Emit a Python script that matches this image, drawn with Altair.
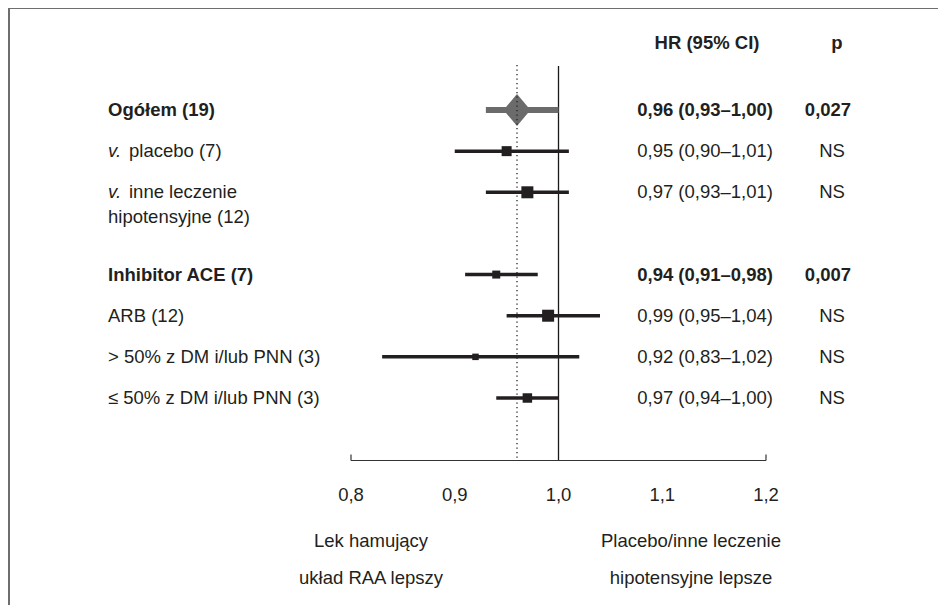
import altair as alt
import pandas as pd

# ---- data ----
labels = ["Ogółem (19)", "placebo (7)", "inne leczenie", "Inhibitor ACE (7)",
          "ARB (12)", "> 50% z DM i/lub PNN (3)", "≤ 50% z DM i/lub PNN (3)"]
prefixes = ["", "v.", "v.", "", "", "", ""]
second_lines = ["", "", "hipotensyjne (12)", "", "", "", ""]
rows = [0, 1, 2, 4, 5, 6, 7]
hr = [0.96, 0.95, 0.97, 0.94, 0.99, 0.92, 0.97]
ci_low = [0.93, 0.90, 0.93, 0.91, 0.95, 0.83, 0.94]
ci_high = [1.00, 1.01, 1.01, 0.98, 1.04, 1.02, 1.00]
hr_labels = ["0,96 (0,93–1,00)", "0,95 (0,90–1,01)", "0,97 (0,93–1,01)",
             "0,94 (0,91–0,98)", "0,99 (0,95–1,04)", "0,92 (0,83–1,02)",
             "0,97 (0,94–1,00)"]
p_labels = ["0,027", "NS", "NS", "0,007", "NS", "NS", "NS"]
bold = [True, False, False, True, False, False, False]
pooled = [True, False, False, False, False, False, False]
weights = [0, 100, 144, 64, 144, 42, 90]

x_ticks = [0.8, 0.9, 1.0, 1.1, 1.2]
x_tick_labels = ["0,8", "0,9", "1,0", "1,1", "1,2"]
null_value = [1.0]
pooled_value = [0.96]

footer_texts = ["Lek hamujący", "układ RAA lepszy",
                "Placebo/inne leczenie", "hipotensyjne lepsze"]
footer_side = ["L", "L", "R", "R"]
footer_line = [0, 1, 0, 1]

df = pd.DataFrame({
    "label": labels, "prefix": prefixes, "line2": second_lines, "row": rows,
    "hr": hr, "lo": ci_low, "hi": ci_high, "hr_label": hr_labels,
    "p": p_labels, "bold": bold, "pooled": pooled, "weight": weights,
})
ticks_df = pd.DataFrame({"v": x_ticks, "t": x_tick_labels})
axis_df = pd.DataFrame({"lo": [x_ticks[0]], "hi": [x_ticks[-1]]})
ends_df = pd.DataFrame({"v": [x_ticks[0], x_ticks[-1]]})
null_df = pd.DataFrame({"v": null_value})
pool_df = pd.DataFrame({"v": pooled_value})
foot_df = pd.DataFrame({"t": footer_texts, "side": footer_side, "line": footer_line})

FONT = "Liberation Sans, Arial, Helvetica, sans-serif"
FS = 18.5
INK = "#231f20"
GREY = "#6b6b6b"

XS = alt.Scale(domain=[0.8, 1.2], range=[343, 758])
YS = alt.Scale(domain=[0, 7], range=[102, 390])
FS_Y = alt.Scale(domain=[0, 1], range=[533, 570])


def X(f):
    return alt.X(f, scale=XS, axis=None)


def Y(f):
    return alt.Y(f, scale=YS, axis=None)


base = alt.Chart(df)

# frame (top and left edges)
frame_top = alt.Chart(axis_df).mark_rule(color="#6e6e6e", strokeWidth=2).encode(
    x=alt.value(0), x2=alt.value(930), y=alt.value(0))
frame_left = alt.Chart(axis_df).mark_rule(color="#6e6e6e", strokeWidth=2).encode(
    x=alt.value(1), y=alt.value(0), y2=alt.value(597))

# vertical reference lines
null_line = alt.Chart(null_df).mark_rule(color="#1a1a1a", strokeWidth=1.3).encode(
    x=X("v:Q"), y=alt.value(58), y2=alt.value(452))
pool_line = alt.Chart(pool_df).mark_rule(color="#222222", strokeWidth=1.3,
                                         strokeDash=[1.2, 3.3]).encode(
    x=X("v:Q"), y=alt.value(57), y2=alt.value(450))

# pooled estimate
pool_ci = base.transform_filter("datum.pooled").mark_rule(
    color=GREY, strokeWidth=6).encode(x=X("lo:Q"), x2="hi:Q", y=Y("row:Q"))
pool_diamond = base.transform_filter("datum.pooled").mark_point(
    shape="M-0.84,0L0,-1L0.84,0L0,1Z", filled=True, size=1024,
    color=GREY, opacity=1).encode(x=X("hr:Q"), y=Y("row:Q"))

# subgroups
sub_ci = base.transform_filter("!datum.pooled").mark_rule(
    color=INK, strokeWidth=3.5).encode(x=X("lo:Q"), x2="hi:Q", y=Y("row:Q"))
sub_sq = base.transform_filter("!datum.pooled").mark_square(
    color=INK, opacity=1).encode(
    x=X("hr:Q"), y=Y("row:Q"),
    size=alt.Size("weight:Q", scale=alt.Scale(domain=[0, 144], range=[0, 144]),
                  legend=None))


def txt(data, flt, **kw):
    c = data
    if flt:
        c = c.transform_filter(flt)
    params = dict(font=FONT, fontSize=FS, color=INK, baseline="middle")
    params.update(kw)
    return c.mark_text(**params)


# left labels
lab_plain = txt(base, "datum.prefix == '' && !datum.bold", align="left").encode(
    x=alt.value(100), y=Y("row:Q"), text="label:N")
lab_bold = txt(base, "datum.prefix == '' && datum.bold", align="left",
               fontWeight="bold").encode(x=alt.value(100), y=Y("row:Q"), text="label:N")
lab_prefix = txt(base, "datum.prefix != ''", align="left", fontStyle="italic").encode(
    x=alt.value(100), y=Y("row:Q"), text="prefix:N")
lab_after = txt(base, "datum.prefix != ''", align="left", dx=21).encode(
    x=alt.value(100), y=Y("row:Q"), text="label:N")
lab_line2 = txt(base, "datum.line2 != ''", align="left", dy=25).encode(
    x=alt.value(100), y=Y("row:Q"), text="line2:N")

# HR and p columns
hr_plain = txt(base, "!datum.bold", align="right").encode(
    x=alt.value(765), y=Y("row:Q"), text="hr_label:N")
hr_bold = txt(base, "datum.bold", align="right", fontWeight="bold").encode(
    x=alt.value(765), y=Y("row:Q"), text="hr_label:N")
p_plain = txt(base, "!datum.bold", align="center").encode(
    x=alt.value(824), y=Y("row:Q"), text="p:N")
p_bold = txt(base, "datum.bold", align="center", fontWeight="bold").encode(
    x=alt.value(820), y=Y("row:Q"), text="p:N")

head_df = pd.DataFrame({"t": ["HR (95% CI)"]})
hdr_hr = txt(alt.Chart(head_df), None, align="center", fontWeight="bold").encode(
    x=alt.value(699), y=alt.value(35), text="t:N")
hdr_p = txt(alt.Chart(pd.DataFrame({"t": ["p"]})), None, align="center",
            fontWeight="bold").encode(x=alt.value(829), y=alt.value(35), text="t:N")

# axis
axis_line = alt.Chart(axis_df).mark_rule(color="#333333", strokeWidth=1.2).encode(
    x=X("lo:Q"), x2="hi:Q", y=alt.value(452.5))
axis_ends = alt.Chart(ends_df).mark_rule(color="#333333", strokeWidth=1.2).encode(
    x=X("v:Q"), y=alt.value(446.5), y2=alt.value(452.5))
axis_labels = txt(alt.Chart(ticks_df), None, align="center").encode(
    x=X("v:Q"), y=alt.value(487), text="t:N")

foot_l = txt(alt.Chart(foot_df), "datum.side == 'L'", align="center").encode(
    x=alt.value(363), y=alt.Y("line:Q", scale=FS_Y, axis=None), text="t:N")
foot_r = txt(alt.Chart(foot_df), "datum.side == 'R'", align="center").encode(
    x=alt.value(683), y=alt.Y("line:Q", scale=FS_Y, axis=None), text="t:N")

plot = alt.layer(
    frame_top, frame_left,
    null_line,
    pool_ci, pool_diamond, sub_ci, sub_sq,
    pool_line,
    axis_line, axis_ends,
).resolve_scale(y="independent")

chart = alt.layer(
    plot,
    alt.layer(lab_plain, lab_bold, lab_prefix, lab_after, lab_line2,
              hr_plain, hr_bold, p_plain, p_bold),
    hdr_hr, hdr_p, axis_labels,
    alt.layer(foot_l, foot_r),
).resolve_scale(y="independent").properties(
    width=930, height=597, padding=0,
    autosize=alt.AutoSizeParams(type="none"),
).configure_view(stroke=None)

chart.save("out.html", embed_options={"renderer": "svg", "actions": False})
